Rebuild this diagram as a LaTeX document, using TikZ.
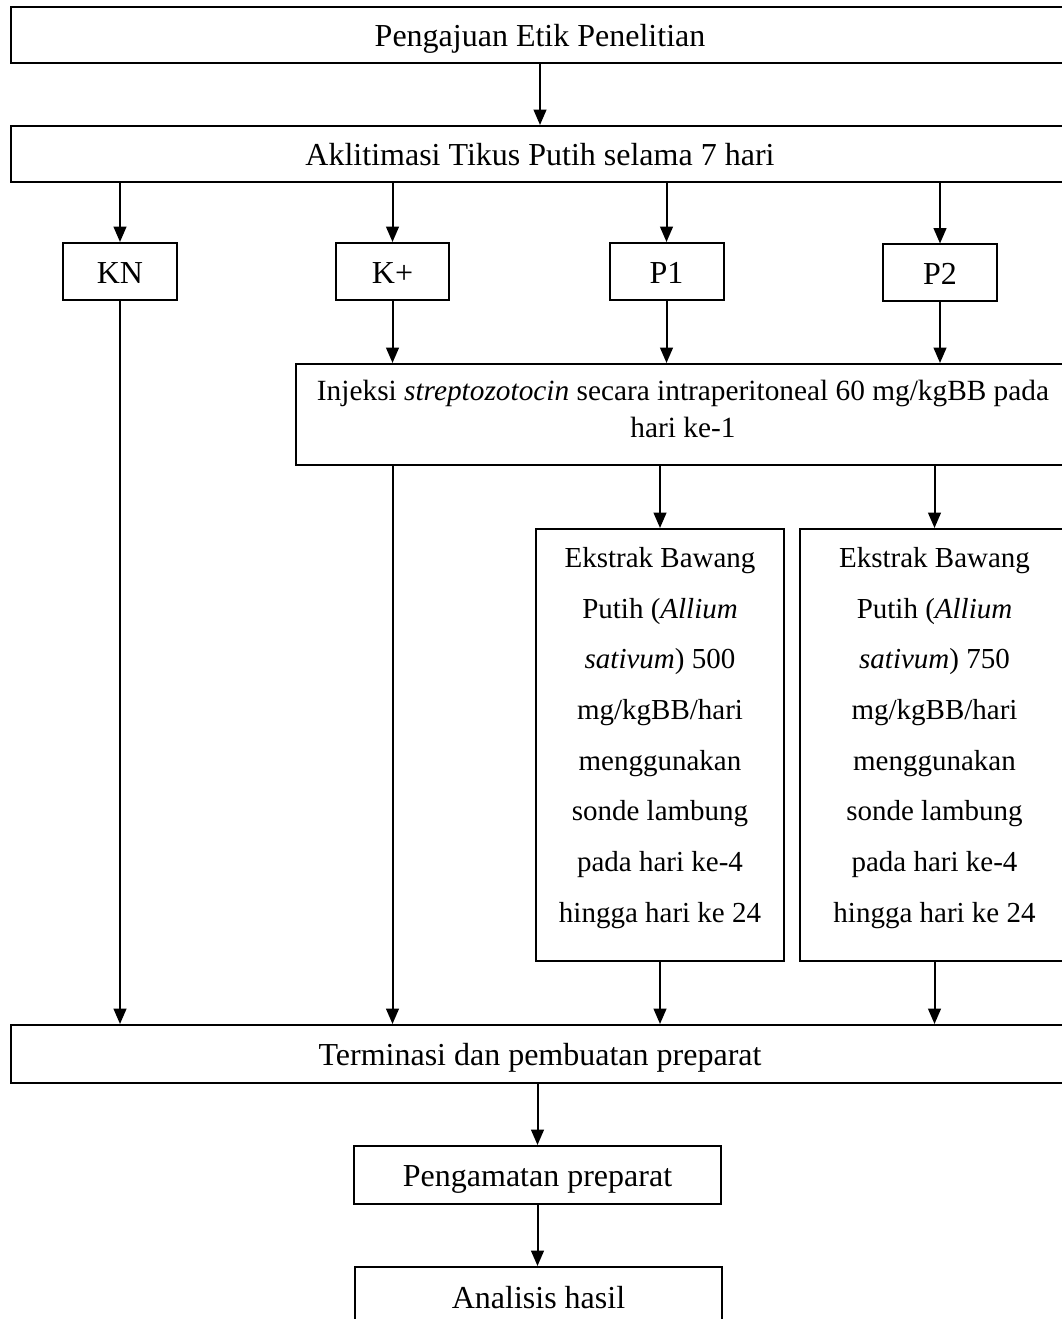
\documentclass[tikz,border=0pt]{standalone}
\usepackage{fontspec}
\setmainfont{Liberation Serif}
\usetikzlibrary{arrows.meta}
\tikzset{
  frame/.style={draw, line width=1.5pt, inner sep=0pt},
  box/.style={frame, align=center, text height=20.4pt, text depth=3pt,
    font=\fontsize{24}{27.75}\selectfont},
  injtext/.style={align=center, inner sep=0pt, font=\fontsize{22}{27.75}\selectfont},
  ektext/.style={align=center, inner sep=0pt, font=\fontsize{21.75}{38}\selectfont},
  arr/.style={line width=1.5pt, -{Triangle[length=11.5pt,width=9.5pt]}},
}
\begin{document}
\begin{tikzpicture}[x=0.75pt,y=-0.75pt]
\clip (0,0) rectangle (1062,1319);
\useasboundingbox (0,0) rectangle (1062,1319);
\node[box, minimum width=793.5pt, minimum height=42pt] (b1) at (540,35) {Pengajuan Etik Penelitian};
\node[box, minimum width=793.5pt, minimum height=42pt] (b2) at (540,154) {Aklitimasi Tikus Putih selama 7 hari};
\node[box, minimum width=85.5pt, minimum height=42.75pt] (kn) at (120,271.5) {KN};
\node[box, minimum width=84.75pt, minimum height=42.75pt] (kp) at (392.5,271.5) {K+};
\node[box, minimum width=85.5pt, minimum height=42.75pt] (p1) at (666.5,271.5) {P1};
\node[box, minimum width=85.5pt, minimum height=42.75pt] (p2) at (940,273) {P2};
\node[frame, minimum width=579.75pt, minimum height=75.75pt] (inj) at (682.5,414.5) {};
\node[injtext] (injt) at (683,409) {Injeksi \textit{streptozotocin} secara intraperitoneal 60 mg/kgBB pada\\hari ke-1};
\node[frame, minimum width=186pt, minimum height=324pt] (e1) at (660,745) {};
\node[ektext] (e1t) at (660,738) {Ekstrak Bawang\\Putih (\textit{Allium}\\\textit{sativum}) 500\\mg/kgBB/hari\\menggunakan\\sonde lambung\\pada hari ke-4\\hingga hari ke 24};
\node[frame, minimum width=201.75pt, minimum height=324pt] (e2) at (934.5,745) {};
\node[ektext] (e2t) at (934.5,738) {Ekstrak Bawang\\Putih (\textit{Allium}\\\textit{sativum}) 750\\mg/kgBB/hari\\menggunakan\\sonde lambung\\pada hari ke-4\\hingga hari ke 24};
\node[box, minimum width=793.5pt, minimum height=43.5pt] (term) at (540,1054) {Terminasi dan pembuatan preparat};
\node[box, minimum width=275.25pt, minimum height=43.5pt] (peng) at (537.5,1175) {Pengamatan preparat};
\node[box, minimum width=275.25pt, minimum height=45pt] (anal) at (538.5,1297) {Analisis hasil};

\draw[arr] (b1.south) -- (b2.north);
\foreach \n in {kn,kp,p1,p2}{
  \draw[arr] (\n.north |- b2.south) -- (\n.north);
}
\foreach \n in {kp,p1,p2}{
  \draw[arr] (\n.south) -- (\n.south |- inj.north);
}
\draw[arr] (kn.south) -- (kn.south |- term.north);
\draw[arr] (kp.south |- inj.south) -- (kp.south |- term.north);
\foreach \n in {e1,e2}{
  \draw[arr] (\n.north |- inj.south) -- (\n.north);
  \draw[arr] (\n.south) -- (\n.south |- term.north);
}
\draw[arr] (peng.north |- term.south) -- (peng.north);
\draw[arr] (peng.south) -- (peng.south |- anal.north);
\end{tikzpicture}
\end{document}
